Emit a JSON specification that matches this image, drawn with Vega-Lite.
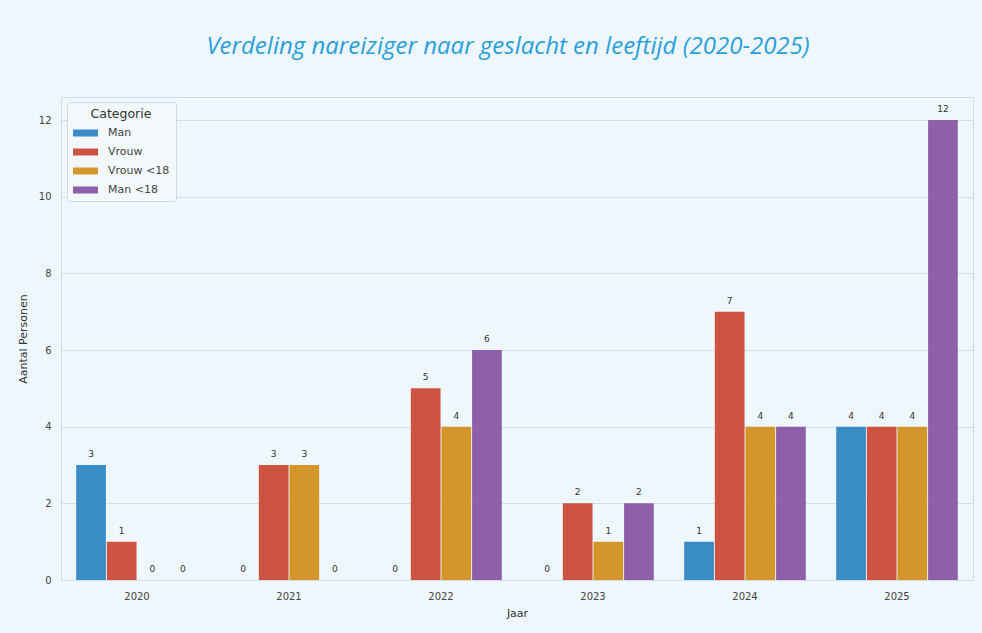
{
  "$schema": "https://vega.github.io/schema/vega-lite/v6.json",
  "autosize": {"type": "none"},
  "width": 912,
  "height": 483,
  "padding": {"left": 61, "top": 97, "right": 9, "bottom": 53},
  "background": "#eef7fd",
  "title": {
    "text": "Verdeling nareiziger naar geslacht en leeftijd (2020-2025)",
    "font": "Open Sans",
    "fontStyle": "italic",
    "fontWeight": "normal",
    "fontSize": 24,
    "color": "#2b9fdc",
    "anchor": "middle",
    "dx": -9,
    "offset": 38
  },
  "config": {
    "view": {"fill": "#eef7fd", "stroke": "#d3dae0", "strokeWidth": 1},
    "axis": {
      "labelFont": "DejaVu Sans",
      "titleFont": "DejaVu Sans",
      "labelColor": "#444444",
      "titleColor": "#333333",
      "labelFontSize": 10,
      "titleFontSize": 11,
      "titleFontWeight": "normal",
      "domain": false,
      "ticks": false,
      "gridColor": "#d6dde3",
      "gridWidth": 1
    }
  },
  "data": {
    "values": [
      {"Jaar": "2020", "Categorie": "Man", "Aantal": 3},
      {"Jaar": "2020", "Categorie": "Vrouw", "Aantal": 1},
      {"Jaar": "2020", "Categorie": "Vrouw <18", "Aantal": 0},
      {"Jaar": "2020", "Categorie": "Man <18", "Aantal": 0},
      {"Jaar": "2021", "Categorie": "Man", "Aantal": 0},
      {"Jaar": "2021", "Categorie": "Vrouw", "Aantal": 3},
      {"Jaar": "2021", "Categorie": "Vrouw <18", "Aantal": 3},
      {"Jaar": "2021", "Categorie": "Man <18", "Aantal": 0},
      {"Jaar": "2022", "Categorie": "Man", "Aantal": 0},
      {"Jaar": "2022", "Categorie": "Vrouw", "Aantal": 5},
      {"Jaar": "2022", "Categorie": "Vrouw <18", "Aantal": 4},
      {"Jaar": "2022", "Categorie": "Man <18", "Aantal": 6},
      {"Jaar": "2023", "Categorie": "Man", "Aantal": 0},
      {"Jaar": "2023", "Categorie": "Vrouw", "Aantal": 2},
      {"Jaar": "2023", "Categorie": "Vrouw <18", "Aantal": 1},
      {"Jaar": "2023", "Categorie": "Man <18", "Aantal": 2},
      {"Jaar": "2024", "Categorie": "Man", "Aantal": 1},
      {"Jaar": "2024", "Categorie": "Vrouw", "Aantal": 7},
      {"Jaar": "2024", "Categorie": "Vrouw <18", "Aantal": 4},
      {"Jaar": "2024", "Categorie": "Man <18", "Aantal": 4},
      {"Jaar": "2025", "Categorie": "Man", "Aantal": 4},
      {"Jaar": "2025", "Categorie": "Vrouw", "Aantal": 4},
      {"Jaar": "2025", "Categorie": "Vrouw <18", "Aantal": 4},
      {"Jaar": "2025", "Categorie": "Man <18", "Aantal": 12}
    ]
  },
  "encoding": {
    "x": {
      "field": "Jaar",
      "type": "nominal",
      "title": "Jaar",
      "scale": {"paddingInner": 0.2, "paddingOuter": 0.1},
      "axis": {"labelAngle": 0, "labelPadding": 11, "titlePadding": 6, "grid": false}
    },
    "xOffset": {
      "field": "Categorie",
      "type": "nominal",
      "sort": ["Man", "Vrouw", "Vrouw <18", "Man <18"],
      "scale": {"paddingInner": 0.03}
    },
    "y": {
      "field": "Aantal",
      "type": "quantitative",
      "title": "Aantal Personen",
      "scale": {"domain": [0, 12.6], "nice": false},
      "axis": {"values": [0, 2, 4, 6, 8, 10, 12], "labelPadding": 10, "titlePadding": 10}
    }
  },
  "layer": [
    {
      "mark": {"type": "bar"},
      "encoding": {
        "color": {
          "field": "Categorie",
          "type": "nominal",
          "sort": ["Man", "Vrouw", "Vrouw <18", "Man <18"],
          "scale": {
            "domain": ["Man", "Vrouw", "Vrouw <18", "Man <18"],
            "range": ["#3a8cc6", "#cd5441", "#d4962a", "#8f5fa9"]
          },
          "legend": {
            "title": "Categorie",
            "orient": "none",
            "legendX": 6,
            "legendY": 5,
            "padding": 6,
            "fillColor": "#f2f8fc",
            "strokeColor": "#d3d9de",
            "cornerRadius": 3,
            "titleFont": "DejaVu Sans",
            "titleFontSize": 12.5,
            "titleFontWeight": "normal",
            "titleColor": "#333333",
            "titleAnchor": "middle",
            "titlePadding": 6,
            "labelFont": "DejaVu Sans",
            "labelFontSize": 11,
            "labelColor": "#444444",
            "labelOffset": 16,
            "symbolType": "M-2,-0.56H2V0.56H-2Z",
            "symbolSize": 156,
            "symbolStrokeWidth": 0,
            "symbolOffset": 6,
            "rowPadding": 7
          }
        }
      }
    },
    {
      "mark": {"type": "text", "baseline": "bottom", "dy": -6, "font": "DejaVu Sans", "fontSize": 9, "color": "#333333"},
      "encoding": {
        "text": {"field": "Aantal", "type": "quantitative"}
      }
    }
  ]
}
